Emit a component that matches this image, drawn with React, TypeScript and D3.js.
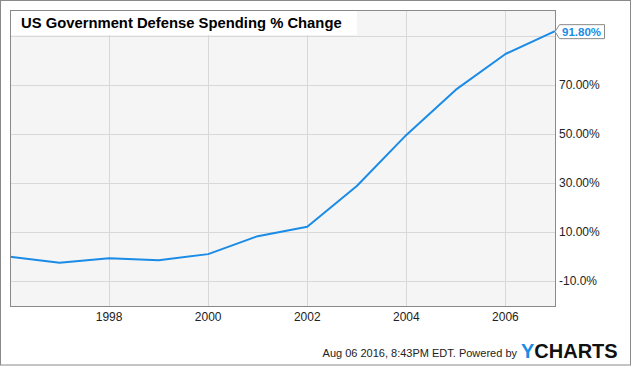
import * as d3 from 'd3'

const YEARS = [1996, 1997, 1998, 1999, 2000, 2001, 2002, 2003, 2004, 2005, 2006, 2007]
const PCT_CHANGE = [0, -2.4, -0.6, -1.4, 1.1, 8.4, 12.2, 28.8, 49.6, 68.0, 82.5, 91.8]
const Y_TICKS = [-10, 10, 30, 50, 70, 90]
const Y_TICK_LABELS = ['-10.0%', '10.00%', '30.00%', '50.00%', '70.00%', '']
const X_TICKS = [1998, 2000, 2002, 2004, 2006]
const TITLE = 'US Government Defense Spending % Change'
const LAST_LABEL = '91.80%'
const FOOTER = 'Aug 06 2016, 8:43PM EDT.  Powered by'

const W = 635
const H = 366
const PLOT = { left: 10, top: 10, right: 555, bottom: 306 }
const FONT = 'Arial, "Liberation Sans", sans-serif'
const BLUE = '#1a8be6'

export default function App() {
  const x = d3.scaleLinear().domain([1996, 2007]).range([PLOT.left, PLOT.right])
  const y = d3.scaleLinear().domain([-20, 100.4]).range([PLOT.bottom, PLOT.top])

  const line = d3
    .line<number>()
    .x((_d, i) => x(YEARS[i]))
    .y((d) => y(d))

  const lastX = x(YEARS[YEARS.length - 1])
  const lastY = y(PCT_CHANGE[PCT_CHANGE.length - 1])

  return (
    <div style={{ position: 'absolute', left: 0, top: 0 }}>
      <svg width={W} height={H} style={{ display: 'block', fontFamily: FONT }}>
        <rect x={0} y={0} width={W} height={H} fill="#fff" />
        <rect x={0.5} y={0.5} width={630} height={364.5} fill="none" stroke="#8a8a8a" />

        {/* plot background + grid */}
        <rect
          x={PLOT.left}
          y={PLOT.top}
          width={PLOT.right - PLOT.left}
          height={PLOT.bottom - PLOT.top}
          fill="#f5f5f5"
        />
        {Y_TICKS.map((t) => (
          <line
            key={'gy' + t}
            x1={PLOT.left}
            x2={PLOT.right}
            y1={Math.round(y(t)) + 0.5}
            y2={Math.round(y(t)) + 0.5}
            stroke="#d8d8d8"
          />
        ))}
        {X_TICKS.map((t) => (
          <line
            key={'gx' + t}
            x1={Math.round(x(t)) + 0.5}
            x2={Math.round(x(t)) + 0.5}
            y1={PLOT.top}
            y2={PLOT.bottom}
            stroke="#d8d8d8"
          />
        ))}

        {/* title box */}
        <rect x={PLOT.left} y={PLOT.top} width={347} height={25} fill="#fff" />
        <text x={21} y={28} fontSize={14.8} fontWeight="bold" fill="#000">
          {TITLE}
        </text>

        <path d={line(PCT_CHANGE) ?? ''} fill="none" stroke={BLUE} strokeWidth={2} strokeLinejoin="round" />

        <rect
          x={PLOT.left + 0.5}
          y={PLOT.top + 0.5}
          width={PLOT.right - PLOT.left}
          height={PLOT.bottom - PLOT.top}
          fill="none"
          stroke="#8a8a8a"
        />

        {/* right axis */}
        {Y_TICKS.map((t, i) => (
          <text key={'ly' + t} x={559} y={y(t) + 4} fontSize={12} fill="#222">
            {Y_TICK_LABELS[i]}
          </text>
        ))}
        {X_TICKS.map((t) => (
          <text key={'lx' + t} x={x(t)} y={321} fontSize={12} fill="#222" textAnchor="middle">
            {t}
          </text>
        ))}

        {/* last value flag */}
        <path
          d={`M${lastX},${lastY + 0.5} L${lastX + 4.5},${lastY - 6.5} H${lastX + 49.5} V${lastY + 7.5} H${lastX + 4.5} Z`}
          fill="#fff"
          stroke="#8a8a8a"
        />
        <text x={lastX + 7} y={lastY + 5} fontSize={11.5} fontWeight="bold" fill={BLUE}>
          {LAST_LABEL}
        </text>

        {/* footer */}
        <text x={517} y={357} fontSize={11} fill="#222" textAnchor="end">
          {FOOTER}
        </text>
        <text x={521} y={358} fontSize={20} fontWeight="bold" fill="#111">
          <tspan fill={BLUE}>Y</tspan>CHARTS
        </text>
      </svg>
    </div>
  )
}
